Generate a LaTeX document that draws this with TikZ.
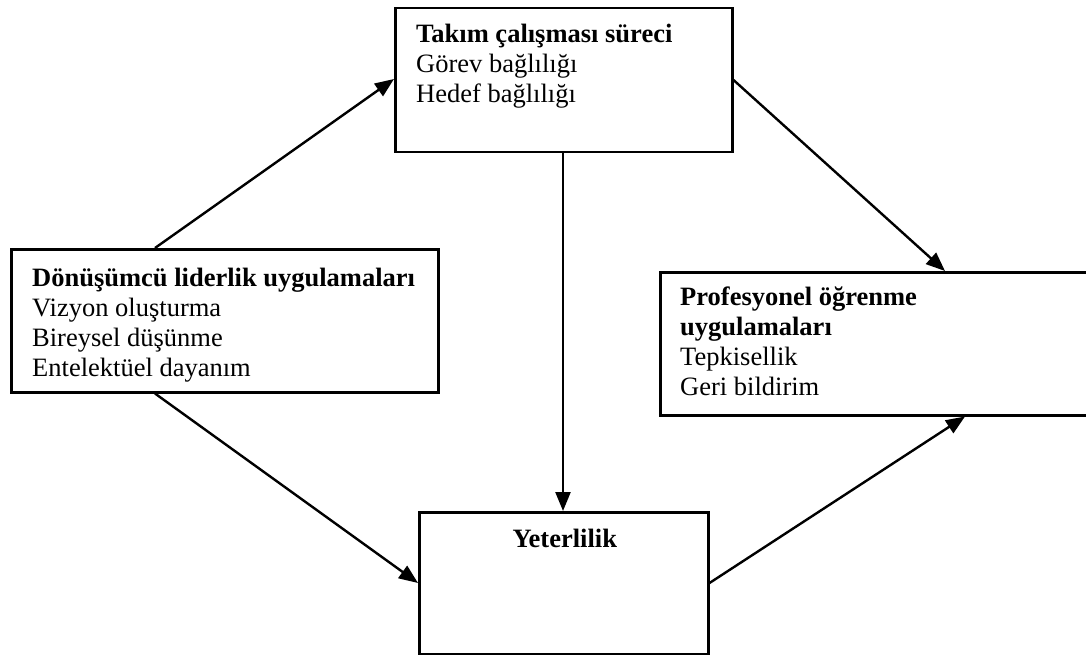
\documentclass[tikz,border=0pt]{standalone}
\usepackage{fontspec}
\setmainfont{Liberation Serif}
\usetikzlibrary{arrows.meta,calc}
\begin{document}
\begin{tikzpicture}[x=1pt,y=-1pt,
  box/.style={draw=black,line width=2.5pt,rectangle,inner sep=0pt,anchor=north west},
  txt/.style={inner sep=0pt,align=left,anchor=north west,
    font=\fontsize{26.5}{29.7}\selectfont},
  arr/.style={line width=2.4pt,-{Triangle[length=19pt,width=15pt]}}]
\useasboundingbox (0,0) rectangle (1086,655);
\clip (0,0) rectangle (1086,655);
\fill[white] (0,0) rectangle (1086,655);

% boxes
\node[box,minimum width=337pt,minimum height=144pt] (team) at (394,7) {};
\node[box,minimum width=427pt,minimum height=143pt] (lead) at (10,248) {};
\node[box,minimum width=440pt,minimum height=143pt] (prof) at (659,271) {};
\node[box,minimum width=289pt,minimum height=142pt] (comp) at (418,511) {};

% box texts (first baseline = node top + 21)
\node[txt] (teamtxt) at ($(team.north west)+(22,15)$)
  {\textbf{Takım çalışması süreci}\strut\\Görev bağlılığı\\Hedef bağlılığı};
\node[txt] (leadtxt) at ($(lead.north west)+(22,18)$)
  {\textbf{Dönüşümcü liderlik uygulamaları}\strut\\Vizyon oluşturma\\Bireysel düşünme\\Entelektüel dayanım};
\node[txt] (proftxt) at ($(prof.north west)+(21,14)$)
  {\textbf{Profesyonel öğrenme}\strut\\\textbf{uygulamaları}\\Tepkisellik\\Geri bildirim};
\node[inner sep=0pt,anchor=base,font=\fontsize{26.5}{29.7}\selectfont\bfseries]
  (comptxt) at ($(comp.north)+(1,36)$) {Yeterlilik};

% connector end points on the box borders
\coordinate (leadN) at ($(lead.north west)+(145,0)$);
\coordinate (leadS) at ($(lead.south west)+(145,0)$);
\coordinate (teamW) at ($(team.north west)+(0,72)$);
\coordinate (teamE) at ($(team.north east)+(0,73)$);
\coordinate (teamS) at ($(team.south west)+(169,0)$);
\coordinate (compN) at ($(comp.north west)+(145,0)$);
\coordinate (compW) at ($(comp.north west)+(0,72)$);
\coordinate (compE) at ($(comp.north east)+(0,72)$);
\coordinate (profN) at ($(prof.north west)+(286,0)$);
\coordinate (profS) at ($(prof.south west)+(306,0)$);

% connectors
\draw[arr] (leadN) -- (teamW);
\draw[arr] (leadS) -- (compW);
\draw[arr] (teamS) -- (compN);
\draw[arr] (teamE) -- (profN);
\draw[arr] (compE) -- (profS);
\end{tikzpicture}
\end{document}
